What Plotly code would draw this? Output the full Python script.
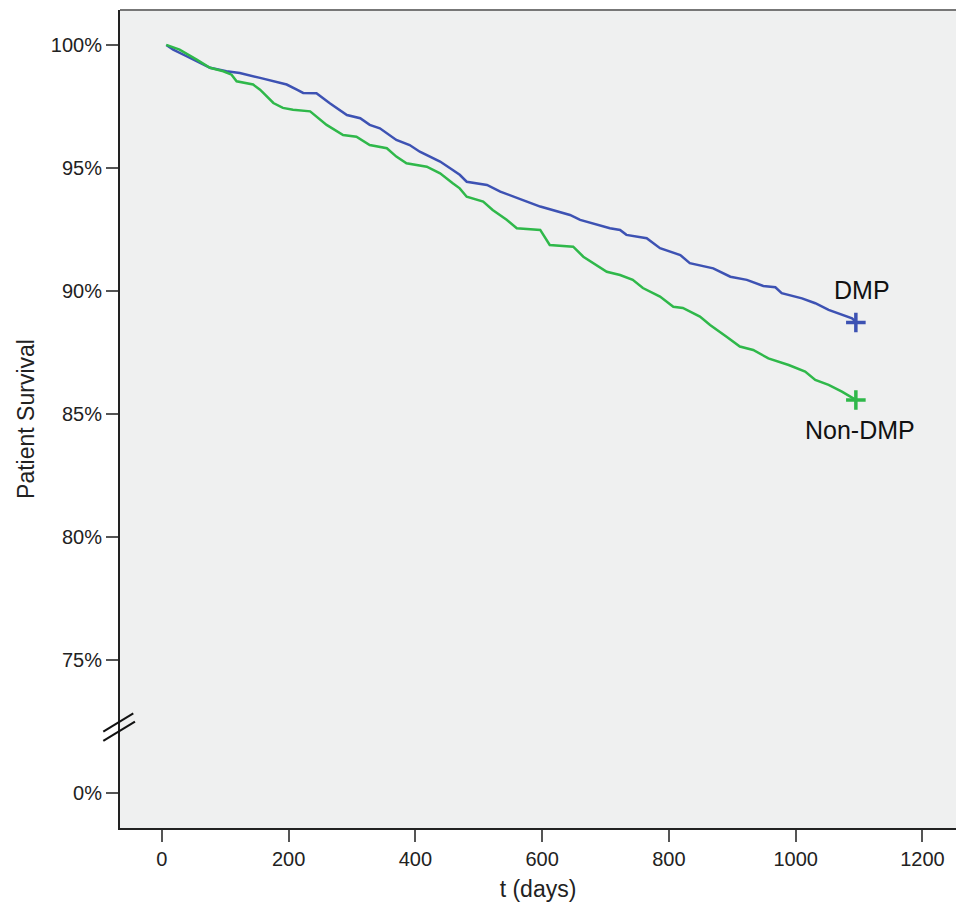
import plotly.graph_objects as go

# ---- data (days, survival %) ----
dmp_t = [7, 18, 39, 60, 76, 102, 123, 155, 175, 197, 213, 223, 244, 265, 292, 313, 328, 344,
         370, 391, 407, 439, 459, 470, 481, 513, 534, 554, 576, 597, 617, 644, 660, 680, 707,
         723, 733, 765, 786, 818, 833, 870, 897, 923, 949, 968, 978, 1010, 1031, 1052, 1073,
         1089, 1095]
dmp_s = [100, 99.81, 99.54, 99.27, 99.07, 98.93, 98.86, 98.66, 98.52, 98.39, 98.18, 98.05,
         98.04, 97.63, 97.15, 97.02, 96.75, 96.61, 96.14, 95.93, 95.66, 95.26, 94.92, 94.72,
         94.44, 94.31, 94.04, 93.83, 93.63, 93.43, 93.29, 93.09, 92.89, 92.75, 92.55, 92.48,
         92.28, 92.14, 91.74, 91.46, 91.13, 90.92, 90.58, 90.45, 90.20, 90.15, 89.91, 89.70,
         89.50, 89.23, 89.02, 88.89, 88.74]

non_t = [7, 28, 55, 76, 97, 110, 118, 144, 155, 165, 176, 191, 207, 234, 260, 286, 307, 328,
         355, 370, 386, 418, 439, 459, 470, 481, 507, 522, 544, 560, 597, 612, 649, 665, 686,
         702, 723, 743, 759, 786, 807, 822, 849, 865, 891, 912, 933, 957, 989, 1015, 1031,
         1052, 1073, 1089, 1095]
non_s = [100, 99.81, 99.40, 99.07, 98.93, 98.79, 98.52, 98.39, 98.18, 97.91, 97.64, 97.44,
         97.37, 97.30, 96.75, 96.34, 96.27, 95.93, 95.80, 95.46, 95.19, 95.05, 94.78, 94.38,
         94.17, 93.83, 93.63, 93.29, 92.89, 92.55, 92.48, 91.87, 91.80, 91.39, 91.06, 90.78,
         90.65, 90.45, 90.12, 89.77, 89.36, 89.31, 88.96, 88.62, 88.14, 87.74, 87.60, 87.26,
         86.99, 86.72, 86.38, 86.18, 85.91, 85.64, 85.57]

# censor marks at the end of follow-up
dmp_end = (1095, 88.72)
non_end = (1095, 85.57)

series_names = ["DMP", "Non-DMP"]

# y axis has a break: 0% is drawn below the 75% tick
y_tick_vals = [69.59, 75, 80, 85, 90, 95, 100]
y_tick_text = ["0%", "75%", "80%", "85%", "90%", "95%", "100%"]
x_tick_vals = [0, 200, 400, 600, 800, 1000, 1200]

BLUE = "#3d52b3"
GREEN = "#2fb84a"
FONT = "Liberation Sans, Arial, sans-serif"

fig = go.Figure()
fig.add_trace(go.Scatter(x=dmp_t, y=dmp_s, mode="lines", line=dict(color=BLUE, width=2.5),
                         name=series_names[0], showlegend=False))
fig.add_trace(go.Scatter(x=non_t, y=non_s, mode="lines", line=dict(color=GREEN, width=2.5),
                         name=series_names[1], showlegend=False))
fig.add_trace(go.Scatter(x=[dmp_end[0]], y=[dmp_end[1]], mode="markers",
                         marker=dict(symbol="cross-thin", size=14, line=dict(color=BLUE, width=3.5)),
                         showlegend=False))
fig.add_trace(go.Scatter(x=[non_end[0]], y=[non_end[1]], mode="markers",
                         marker=dict(symbol="cross-thin", size=14, line=dict(color=GREEN, width=3.5)),
                         showlegend=False))

fig.add_annotation(x=1105, y=90.04, text=series_names[0], showarrow=False,
                   font=dict(family=FONT, size=25, color="#111"))
fig.add_annotation(x=1101, y=84.35, text=series_names[1], showarrow=False,
                   font=dict(family=FONT, size=25, color="#111"))

# top frame line
fig.add_shape(type="line", xref="paper", yref="paper", x0=0, x1=1, y0=1, y1=1,
              line=dict(color="#777777", width=2))
# axis-break marks
fig.add_shape(type="line", xref="paper", yref="paper", x0=-0.020, y0=0.1177, x1=0.0159, y1=0.1402,
              line=dict(color="#111111", width=2))
fig.add_shape(type="line", xref="paper", yref="paper", x0=-0.020, y0=0.1064, x1=0.0179, y1=0.1300,
              line=dict(color="#111111", width=2))

fig.update_layout(
    width=956, height=908,
    margin=dict(l=120, r=0, t=10, b=80),
    paper_bgcolor="white",
    plot_bgcolor="#eff0f0",
    font=dict(family=FONT, color="#222222", size=20),
    xaxis=dict(range=[-66, 1253], tickvals=x_tick_vals, showgrid=False, zeroline=False,
               showline=True, linecolor="#222222", linewidth=2,
               ticks="outside", ticklen=12, tickwidth=2, tickcolor="#555555",
               tickfont=dict(size=20, color="#222222"),
               title=dict(text="t (days)", font=dict(size=23, color="#222222"), standoff=12)),
    yaxis=dict(range=[68.17, 101.42], tickvals=y_tick_vals, ticktext=y_tick_text,
               showgrid=False, zeroline=False,
               showline=True, linecolor="#222222", linewidth=2,
               ticks="outside", ticklen=12, tickwidth=2, tickcolor="#555555",
               tickfont=dict(size=20, color="#222222"),
               title=dict(text="Patient Survival", font=dict(size=23, color="#222222"), standoff=10)),
)

fig.write_html("out.html")
